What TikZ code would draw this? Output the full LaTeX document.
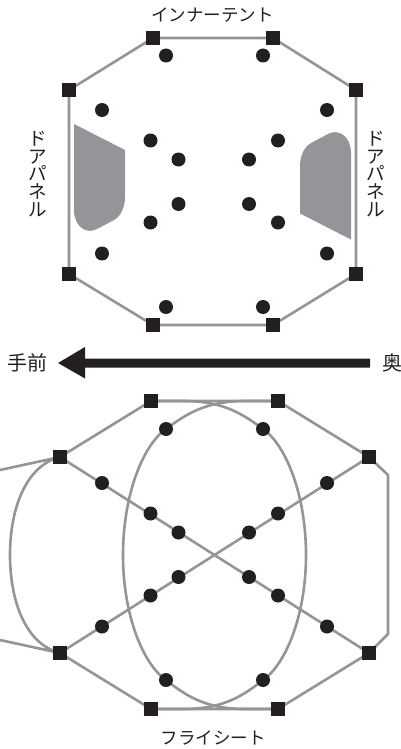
\documentclass[tikz,border=0pt]{standalone}
\usepackage{fontspec}
\setmainfont{Noto Sans CJK JP}
\definecolor{ink}{HTML}{231F20}
\definecolor{wire}{HTML}{939598}
\tikzset{
  pin/.style={fill=ink,inner sep=0pt,minimum size=14.5pt,shape=rectangle},
  dot/.style={fill=ink,inner sep=0pt,minimum size=14pt,shape=circle},
  wireline/.style={draw=wire,line width=2.6pt,line join=round},
  lab/.style={text=ink,font=\fontsize{17.5pt}{17.5pt}\selectfont,inner sep=0pt},
  biglab/.style={text=ink,font=\fontsize{20pt}{20pt}\selectfont,inner sep=0pt},
  vlab/.style={lab,align=center,font=\fontsize{18.5pt}{17.9pt}\selectfont},
  panel/.style={fill=wire,draw=none}
}
\begin{document}
\begin{tikzpicture}[x=1pt,y=-1pt]
\useasboundingbox (0,0) rectangle (401,749);
% upper coordinates
\foreach \n/\x/\y in {a/153/38,b/273/38,c/356/90,d/356/274,e/273/325,f/153/325,g/69/274,h/69/90,
  p/151/401,q/278/401,r/369/457,s/369/653,t/278/709,u/151/709,v/60/653,w/60/457}
  {\coordinate (\n) at (\x,\y);}
\coordinate (lu) at (0,470);
\coordinate (ll) at (0,640);
\coordinate (ru) at (388,475);
\coordinate (rl) at (388,634);
% panels
\fill[panel] (74,124) -- (125,150) -- (125,197) .. controls (125,207) and (121,216) .. (114,220) -- (97,229) .. controls (86,235) and (74,226) .. (74,210) -- cycle;
\fill[panel] (351,239.5) -- (300,213.5) -- (300,166) .. controls (300,156) and (304,147) .. (311,143) -- (328,134) .. controls (339,128) and (351,137) .. (351,153) -- cycle;
% wires
\draw[wireline] (a) -- (b) -- (c) -- (d) -- (e) -- (f) -- (g) -- (h) -- cycle;
\draw[wireline] (v) -- (u) -- (t) -- (s) -- (rl) -- (ru) -- (r) -- (q) -- (p) -- (w);
\draw[wireline] (w) -- (s) (v) -- (r);
\draw[wireline] (lu) -- (w) .. controls (25,466) and (10,510) .. (10,555) .. controls (10,600) and (25,644) .. (v) -- (ll);
\draw[wireline] (p) -- (184,401) .. controls (224,401) and (244,415) .. (263,429) .. controls (286,445) and (306,495) .. (306,555) .. controls (306,615) and (286,664) .. (263,680) .. controls (244,695) and (224,709) .. (184,709) -- (u);
\draw[wireline] (q) -- (245,401) .. controls (205,401) and (185,415) .. (166,429) .. controls (143,445) and (123,495) .. (123,555) .. controls (123,615) and (143,664) .. (166,680) .. controls (185,695) and (205,709) .. (245,709) -- (t);
% squares
\foreach \n in {a,b,c,d,e,f,g,h,p,q,r,s,t,u,v,w}
  \node[pin] (P\n) at (\n) {};
% dots
\foreach \i/\x/\y in {1/166/55.5,2/263/55.5,3/102/110,4/327/110,5/150.5/140.5,6/278/140.5,7/178.5/159.5,8/249/159.5,9/178.5/204,10/249/204,11/150.5/222.5,12/278/222.5,13/102/253.5,14/327/253.5,15/166/307,16/263/307,
  17/166/429,18/263/429,19/102/483,20/327/483,21/150.5/513.5,22/278/513.5,23/178.5/532.5,24/249/532.5,25/178.5/577,26/249/577,27/150.5/595.5,28/278/595.5,29/102/626.5,30/327/626.5,31/166/680,32/263/680}
  \node[dot] (D\i) at (\x,\y) {};
% labels
\node[lab] (inner) at (212.5,15) {インナーテント};
\node[lab] (fly) at (213,738) {フライシート};
\node[vlab] (dl) at (38,174) {ド\\ア\\パ\\ネ\\ル};
\node[vlab] (dr) at (376,174) {ド\\ア\\パ\\ネ\\ル};
\node[biglab] (front) at (28,363) {手前};
\node[biglab,anchor=west] (back) at (382,363) {奥};
% arrow
\coordinate (as) at (370,363);
\coordinate (at) at (58,363);
\fill[ink] (as) ++(0,-4.5) -- (85,358.5) -- (85,347) -- (at) -- (85,378.5) -- (85,367.5) -- (370,367.5) -- cycle;
\end{tikzpicture}
\end{document}
